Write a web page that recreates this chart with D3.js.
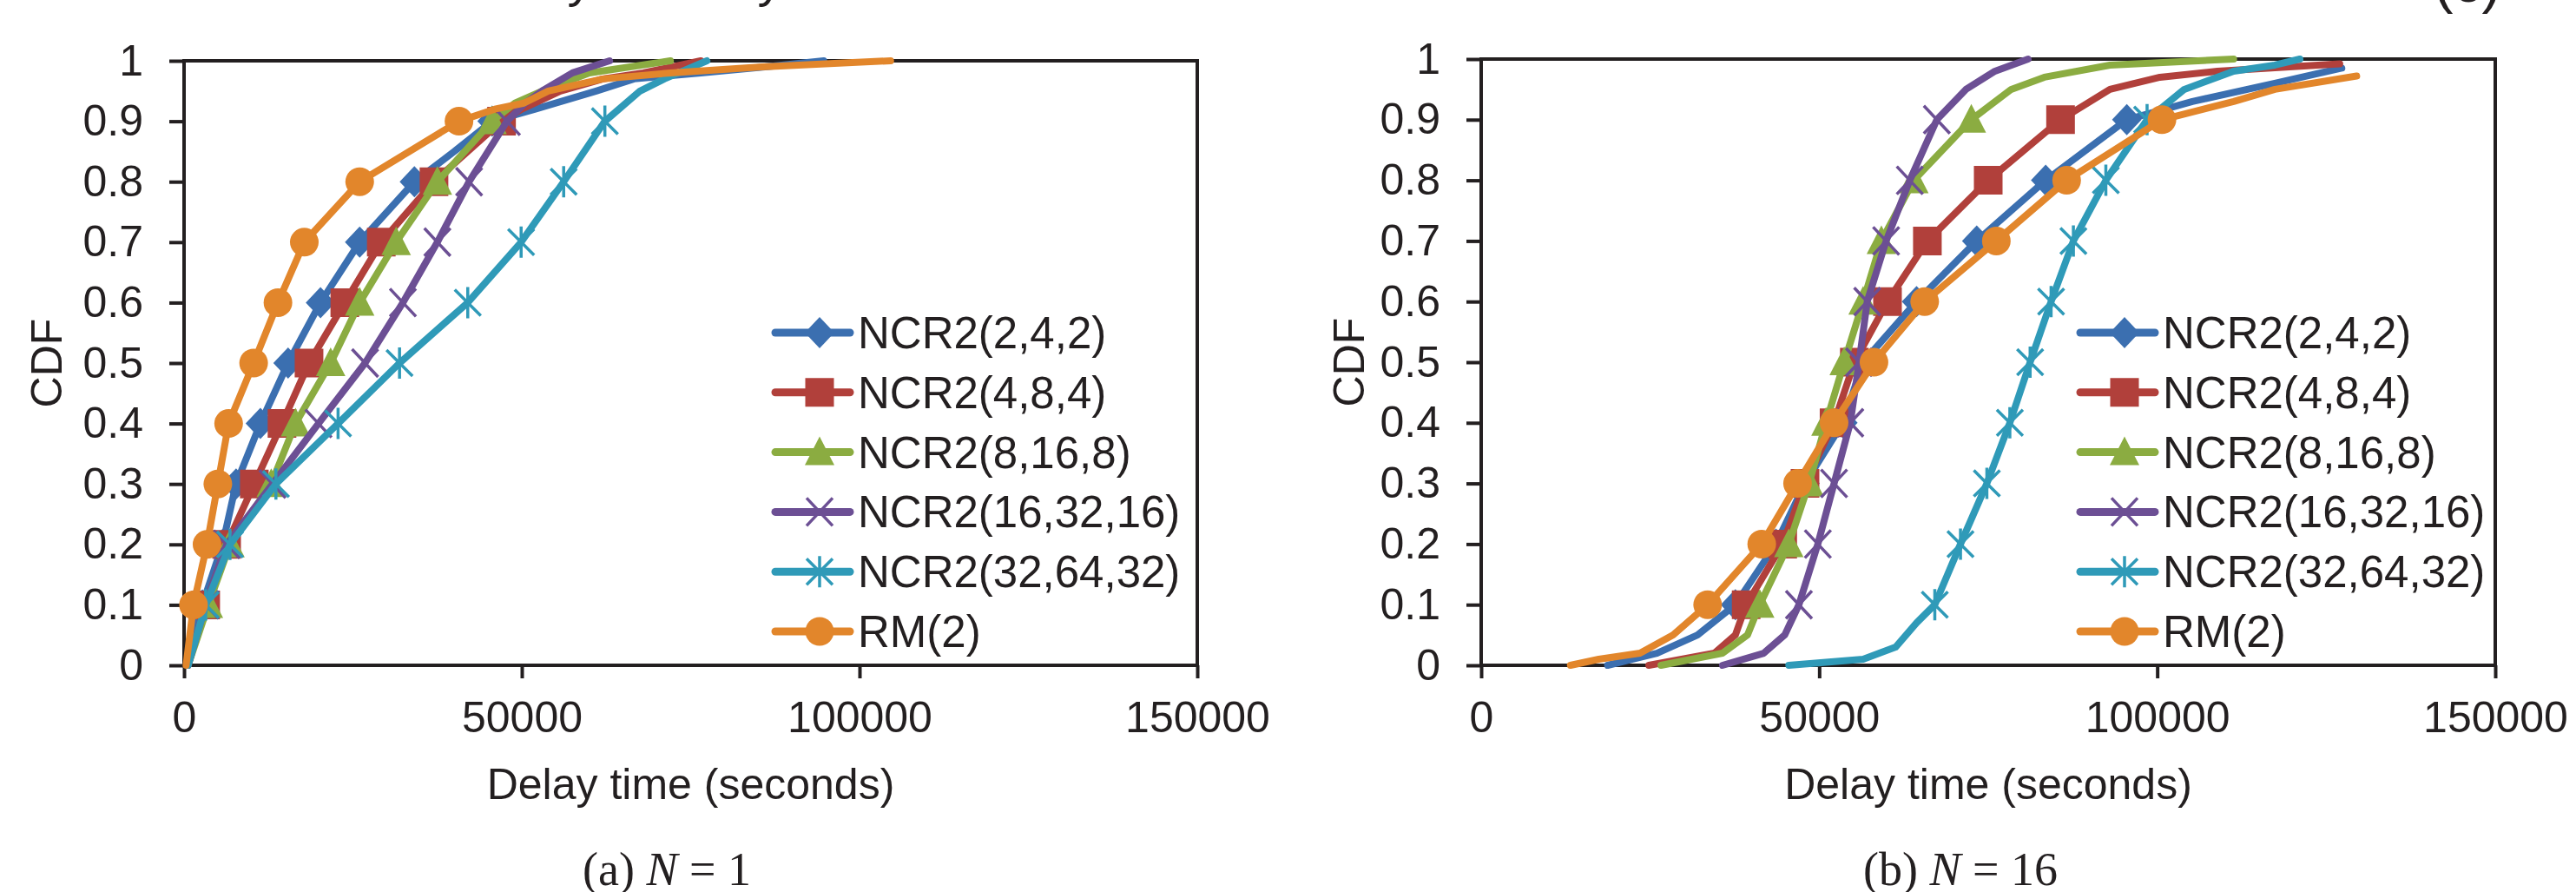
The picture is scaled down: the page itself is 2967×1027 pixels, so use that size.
<!DOCTYPE html>
<html>
<head>
<meta charset="utf-8">
<script src="https://cdn.jsdelivr.net/npm/d3@7"></script>
<style>
  html, body { margin: 0; padding: 0; background: #fff; }
  svg { display: block; }
  text { font-family: "Liberation Sans", Arial, sans-serif; fill: #231f20; }
</style>
</head>
<body>
<svg id="chart" width="2967" height="1027"></svg>
<script>
'use strict';

// ---- data: [delay in seconds, CDF] ----
const seriesNames = ['NCR2(2,4,2)', 'NCR2(4,8,4)', 'NCR2(8,16,8)', 'NCR2(16,32,16)', 'NCR2(32,64,32)', 'RM(2)'];
const seriesColors = ['#3b6fb0', '#b1403b', '#8bac41', '#6c4f94', '#2f9ab8', '#e2862b'];
const seriesMarkers = ['diamond', 'square', 'triangle', 'cross', 'star', 'circle'];
const markerLevels = [0.1, 0.2, 0.3, 0.4, 0.5, 0.6, 0.7, 0.8, 0.9];

const xTickValues = [0, 50000, 100000, 150000];
const yTickValues = [0, 0.1, 0.2, 0.3, 0.4, 0.5, 0.6, 0.7, 0.8, 0.9, 1];
const yTickLabels = ['0', '0.1', '0.2', '0.3', '0.4', '0.5', '0.6', '0.7', '0.8', '0.9', '1'];

// (a) N = 1
const n1_242 = [[600,0],[1200,0.05],[2700,0.1],[5700,0.2],[7700,0.3],[11300,0.4],[15400,0.5],[20200,0.6],[26000,0.7],[34100,0.8],[40000,0.85],[45600,0.9],[52000,0.92],[61000,0.95],[66600,0.97],[76500,0.98],[86000,0.99],[94700,1]];
const n1_484 = [[600,0],[3200,0.1],[6300,0.2],[10400,0.3],[14500,0.4],[18500,0.5],[23800,0.6],[29200,0.7],[37000,0.8],[47000,0.9],[50000,0.92],[55700,0.95],[62000,0.97],[68000,0.98],[76500,1]];
const n1_8168 = [[600,0],[3600,0.1],[6800,0.2],[12900,0.3],[16500,0.4],[21700,0.5],[26000,0.6],[31400,0.7],[37500,0.8],[45600,0.9],[49000,0.93],[53000,0.95],[60000,0.98],[72000,1]];
const n1_163216 = [[600,0],[3200,0.1],[6300,0.2],[13100,0.3],[19900,0.4],[26800,0.5],[32400,0.6],[37500,0.7],[42200,0.8],[47800,0.9],[50500,0.93],[53000,0.95],[57500,0.98],[63000,1]];
const n1_326432 = [[600,0],[3200,0.1],[6800,0.2],[13600,0.3],[22800,0.4],[31900,0.5],[42000,0.6],[49900,0.7],[56200,0.8],[62300,0.9],[67500,0.95],[71100,0.97],[77400,1]];
const n1_rm2 = [[300,0],[1400,0.1],[3400,0.2],[5000,0.3],[6600,0.4],[10300,0.5],[13900,0.6],[17800,0.7],[26000,0.8],[40700,0.9],[46000,0.92],[50300,0.93],[53900,0.95],[62000,0.97],[72000,0.98],[85600,0.99],[104600,1]];

// (b) N = 16
const n16_242 = [[18700,0],[26000,0.02],[32000,0.05],[37600,0.1],[43600,0.2],[47900,0.3],[53500,0.4],[56500,0.5],[64400,0.6],[73300,0.7],[83500,0.8],[95500,0.9],[105200,0.93],[117400,0.96],[127300,0.985]];
const n16_484 = [[24800,0],[34500,0.02],[37600,0.05],[39200,0.1],[44600,0.2],[47900,0.3],[52200,0.4],[55200,0.5],[60100,0.6],[66000,0.7],[75000,0.8],[85700,0.9],[93000,0.95],[100400,0.97],[108900,0.98],[127000,0.992]];
const n16_8168 = [[26600,0],[35700,0.02],[39400,0.05],[41200,0.1],[45500,0.2],[48500,0.3],[51000,0.4],[53700,0.5],[56500,0.6],[59200,0.7],[64000,0.8],[72500,0.9],[78400,0.95],[83300,0.97],[93000,0.99],[111300,1]];
const n16_163216 = [[35700,0],[41800,0.02],[44900,0.05],[47000,0.1],[49800,0.2],[52200,0.3],[54600,0.4],[55900,0.5],[57100,0.6],[59900,0.7],[63400,0.8],[67400,0.9],[71700,0.95],[76000,0.98],[80900,1]];
const n16_326432 = [[45500,0],[56500,0.01],[61300,0.03],[64400,0.07],[67100,0.1],[70900,0.2],[74800,0.3],[78200,0.4],[81200,0.5],[84300,0.6],[87600,0.7],[92400,0.8],[98500,0.9],[104000,0.95],[111300,0.98],[117400,0.99],[121100,1]];
const n16_rm2 = [[13200,0],[17400,0.01],[23500,0.02],[28400,0.05],[33500,0.1],[41500,0.2],[46800,0.3],[52200,0.4],[58100,0.5],[65600,0.6],[76200,0.7],[86600,0.8],[100700,0.9],[111300,0.93],[117400,0.95],[129500,0.972]];

const seriesN1 = [n1_242, n1_484, n1_8168, n1_163216, n1_326432, n1_rm2];
const seriesN16 = [n16_242, n16_484, n16_8168, n16_163216, n16_326432, n16_rm2];

// ---- layout ----
const ink = '#231f20';
const panels = [
  { series: seriesN1, left: 212, right: 1379, top: 70, bottom: 766, cdfX: 71, legendX: 889, caption: ['(a) ', 'N', ' = 1'], captionX: 768 },
  { series: seriesN16, left: 1706, right: 2874, top: 68, bottom: 766, cdfX: 1571, legendX: 2392, caption: ['(b) ', 'N', ' = 16'], captionX: 2258 }
];

const svg = d3.select('#chart');

// bits of the line of text above, cut off by the page edge
svg.append('text').attr('x', 668).attr('y', -4).attr('font-size', 58).attr('text-anchor', 'middle').text('y');
svg.append('text').attr('x', 887).attr('y', -4).attr('font-size', 58).attr('text-anchor', 'middle').text('y');
svg.append('text').attr('x', 2842).attr('y', 2).attr('font-size', 66).attr('text-anchor', 'middle').text('(c)');

const markerPath = {
  diamond: 'M0,-18L17,0L0,18L-17,0Z',
  square: 'M-16.5,-16.5H16.5V16.5H-16.5Z',
  triangle: 'M0,-18L17,15L-17,15Z',
  cross: 'M-15,-16L15,16M-15,16L15,-16',
  star: 'M-15,-15L15,15M-15,15L15,-15M0,-18V18',
  circle: null
};

function drawMarker(sel, kind, color) {
  if (kind === 'circle') {
    sel.append('circle').attr('r', 16.5).attr('fill', color);
  } else if (kind === 'cross' || kind === 'star') {
    sel.append('path').attr('d', markerPath[kind]).attr('fill', 'none')
      .attr('stroke', color).attr('stroke-width', 3.5);
  } else {
    sel.append('path').attr('d', markerPath[kind]).attr('fill', color);
  }
}

panels.forEach(p => {
  const x = d3.scaleLinear().domain([0, 150000]).range([p.left, p.right]);
  const y = d3.scaleLinear().domain([0, 1]).range([p.bottom, p.top]);
  const g = svg.append('g');

  // axes
  const yAxis = d3.axisLeft(y)
    .tickValues(yTickValues)
    .tickFormat((d, i) => yTickLabels[i])
    .tickSize(17)
    .tickSizeOuter(0)
    .tickPadding(30);
  const xAxis = d3.axisBottom(x)
    .tickValues(xTickValues)
    .tickFormat(d => String(d))
    .tickSize(15)
    .tickSizeOuter(0)
    .tickPadding(26);

  [g.append('g').attr('transform', 'translate(' + p.left + ',0)').call(yAxis),
   g.append('g').attr('transform', 'translate(0,' + p.bottom + ')').call(xAxis)]
    .forEach(a => {
      a.attr('font-size', 50).attr('font-family', '"Liberation Sans", Arial, sans-serif').attr('color', ink);
      a.selectAll('line').attr('stroke-width', 4);
      a.select('.domain').remove();
    });

  // frame
  g.append('rect')
    .attr('x', p.left).attr('y', p.top)
    .attr('width', p.right - p.left).attr('height', p.bottom - p.top)
    .attr('fill', 'none').attr('stroke', ink).attr('stroke-width', 4);

  // titles
  g.append('text')
    .attr('x', (p.left + p.right) / 2).attr('y', 920)
    .attr('text-anchor', 'middle').attr('font-size', 50)
    .text('Delay time (seconds)');
  g.append('text')
    .attr('transform', 'translate(' + p.cdfX + ',' + ((p.top + p.bottom) / 2) + ') rotate(-90)')
    .attr('text-anchor', 'middle').attr('font-size', 50)
    .text('CDF');

  // curves
  const line = d3.line().x(d => x(d[0])).y(d => y(d[1]));
  p.series.forEach((data, i) => {
    const sg = g.append('g').attr('class', 'series');
    sg.append('path')
      .datum(data)
      .attr('d', line)
      .attr('fill', 'none')
      .attr('stroke', seriesColors[i])
      .attr('stroke-width', 8)
      .attr('stroke-linejoin', 'round')
      .attr('stroke-linecap', 'round');
    sg.selectAll('g.mk')
      .data(data.filter(d => markerLevels.some(l => Math.abs(l - d[1]) < 1e-9)))
      .enter()
      .append('g')
      .attr('class', 'mk')
      .attr('transform', d => 'translate(' + x(d[0]) + ',' + y(d[1]) + ')')
      .each(function () { drawMarker(d3.select(this), seriesMarkers[i], seriesColors[i]); });
  });

  // legend
  const legend = g.append('g').attr('transform', 'translate(' + p.legendX + ',383)');
  seriesNames.forEach((name, i) => {
    const row = legend.append('g').attr('transform', 'translate(0,' + (i * 68.8) + ')');
    row.append('line')
      .attr('x1', 4).attr('x2', 90).attr('y1', 0).attr('y2', 0)
      .attr('stroke', seriesColors[i]).attr('stroke-width', 9).attr('stroke-linecap', 'round');
    drawMarker(row.append('g').attr('transform', 'translate(55,0)'), seriesMarkers[i], seriesColors[i]);
    row.append('text').attr('x', 99).attr('y', 18).attr('font-size', 51).text(name);
  });

  // caption
  const cap = svg.append('text')
    .attr('x', p.captionX).attr('y', 1019)
    .attr('text-anchor', 'middle')
    .attr('font-size', 54)
    .style('font-family', '"Liberation Serif", "Times New Roman", serif');
  cap.append('tspan').text(p.caption[0]);
  cap.append('tspan').attr('font-style', 'italic').text(p.caption[1]);
  cap.append('tspan').text(p.caption[2]);
});
</script>
</body>
</html>
